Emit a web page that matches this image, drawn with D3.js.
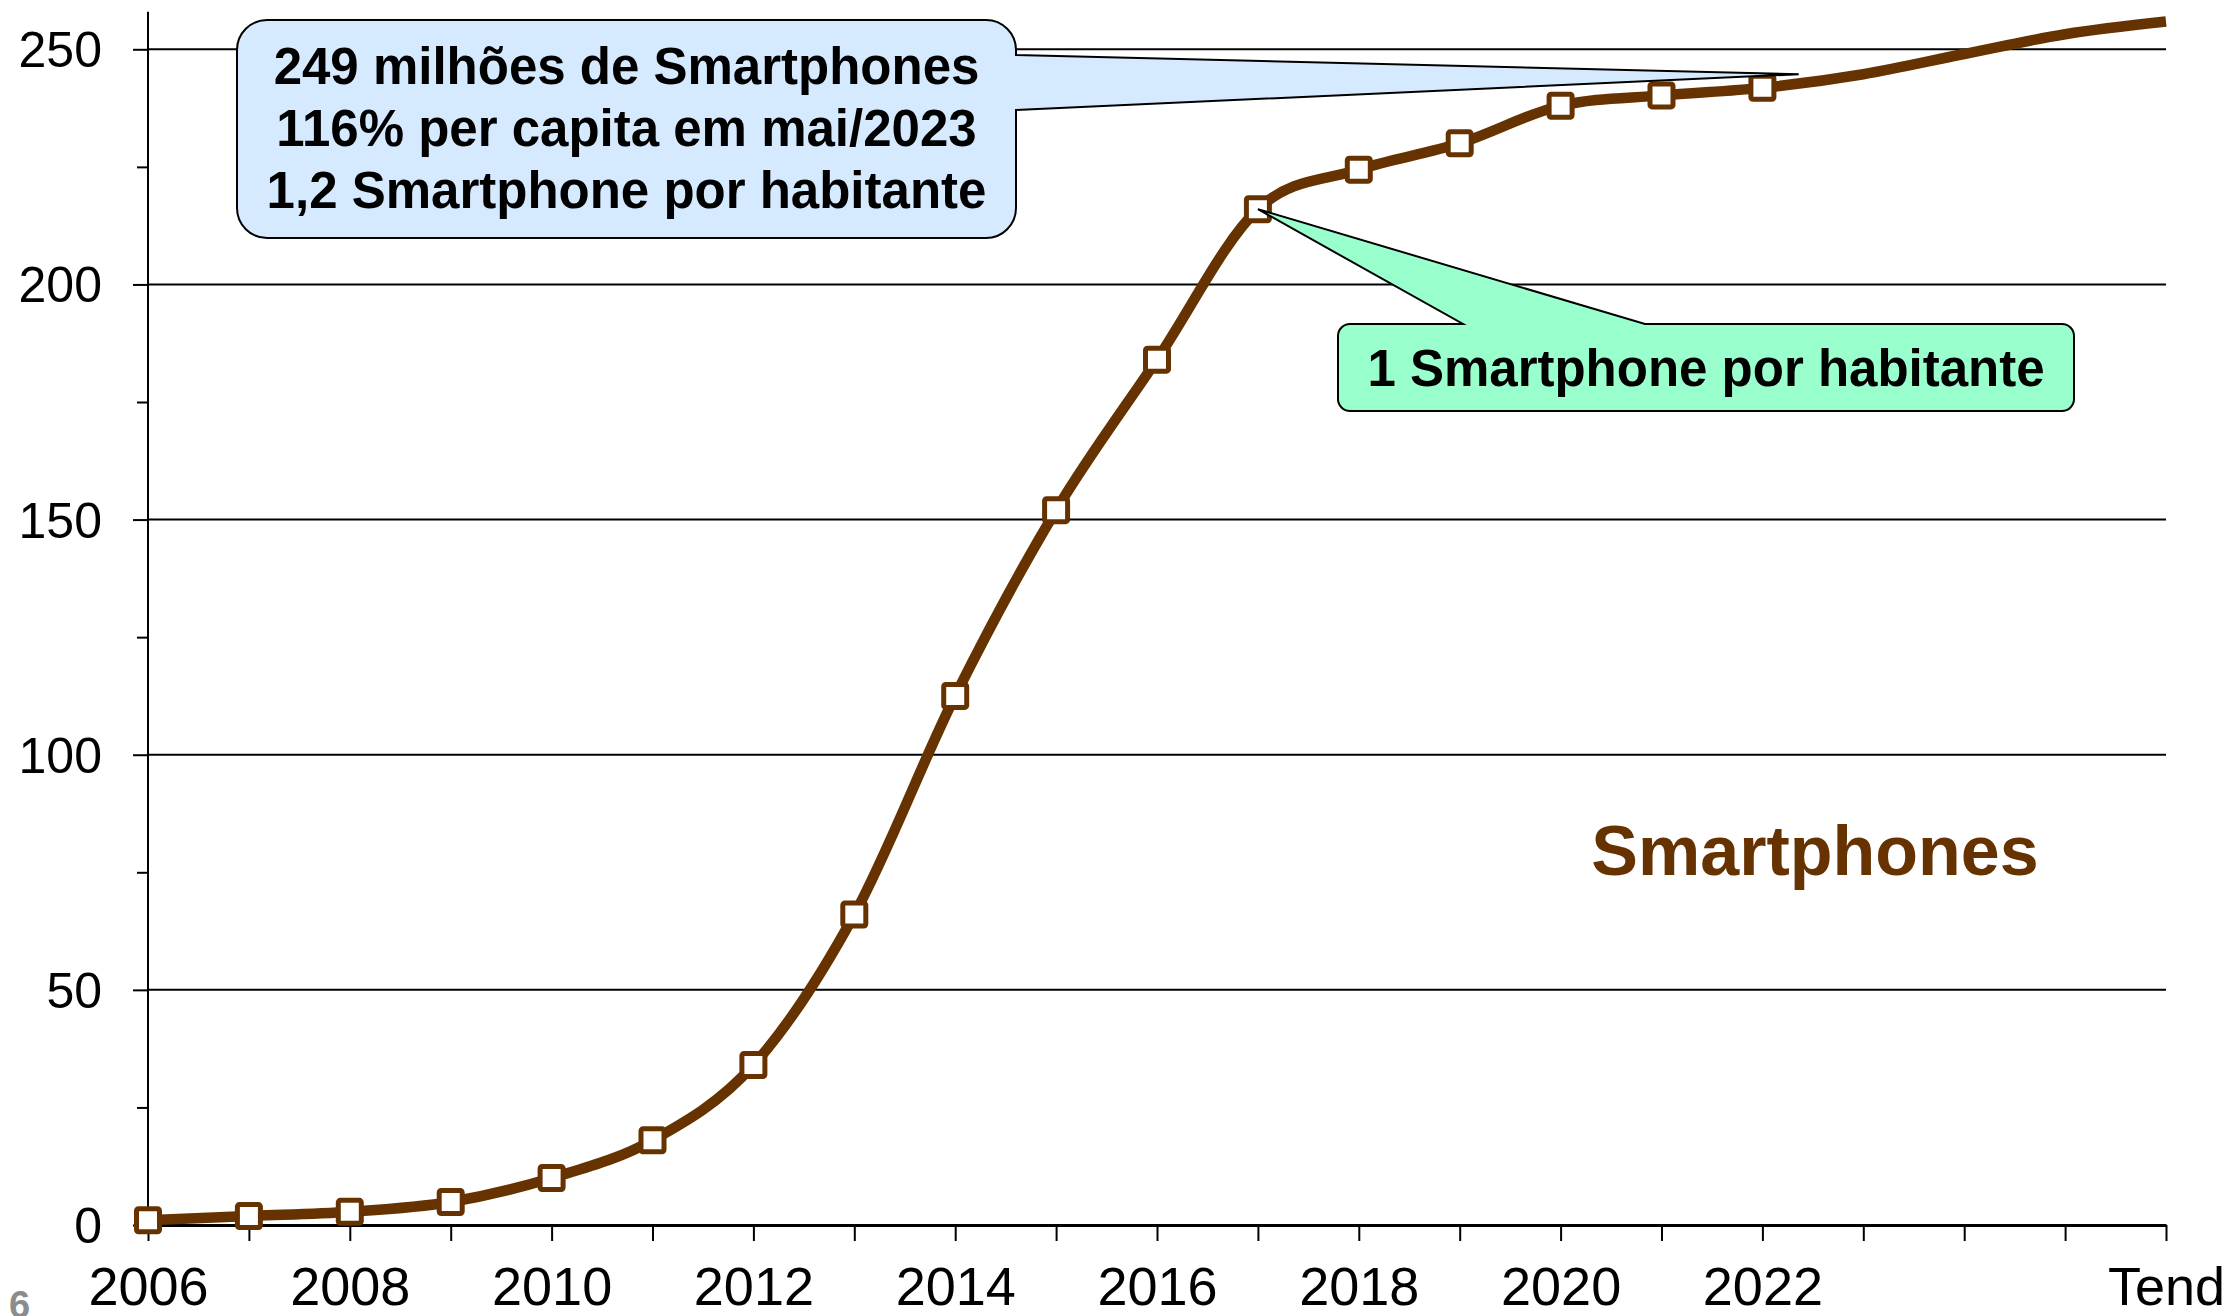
<!DOCTYPE html>
<html>
<head>
<meta charset="utf-8">
<script src="https://cdn.jsdelivr.net/npm/d3@7"></script>
<style>
  body { margin: 0; background: #fff; }
  svg { display: block; font-family: 'Liberation Sans', Arial, sans-serif; }
</style>
</head>
<body>
<div id="container"></div>
<script>
// values
const years = [2006, 2007, 2008, 2009, 2010, 2011, 2012, 2013, 2014, 2015, 2016, 2017, 2018, 2019, 2020, 2021, 2022];
const smartphones = [1, 1.9, 2.8, 4.9, 10, 18, 34, 66, 112.5, 152, 184, 216, 224.4, 230, 238, 240.2, 241.8];
const trendYears = [2023, 2024, 2025, 2026];
const trendValues = [244.7, 249, 253.2, 255.9];

const xTicks = d3.range(2006, 2027);
const xLabels = {2006: '2006', 2008: '2008', 2010: '2010', 2012: '2012', 2014: '2014', 2016: '2016', 2018: '2018', 2020: '2020', 2022: '2022', 2026: 'Tend'};
const yTicks = [0, 50, 100, 150, 200, 250];
const yMinorTicks = [25, 75, 125, 175, 225];

const calloutTop = ['249 milhões de Smartphones', '116% per capita em mai/2023', '1,2 Smartphone por habitante'];
const calloutTopPoint = {year: 2022.36, value: 244.7};
const calloutMid = '1 Smartphone por habitante';
const calloutMidPoint = {year: 2017, value: 216};
const seriesName = 'Smartphones';

const width = 2232;
const height = 1316;
const brown = '#663300';

const svg = d3.select('#container')
  .append('svg')
  .attr('width', width)
  .attr('height', height);

const xScale = d3.scaleLinear()
  .domain([2006, 2026])
  .range([148, 2166]);

const yScale = d3.scaleLinear()
  .domain([0, 250])
  .range([1225, 49.3]);

//gridlines
svg.append('g')
  .selectAll('line')
  .data(yTicks.filter(d => d > 0))
  .enter()
  .append('line')
  .attr('x1', xScale(2006))
  .attr('x2', xScale(2026))
  .attr('y1', d => yScale(d))
  .attr('y2', d => yScale(d))
  .style('stroke', '#000')
  .style('stroke-width', 2);

//y axis
const yAxis = svg.append('g')
  .attr('transform', `translate(${xScale(2006)}, 0)`)
  .call(d3.axisLeft(yScale)
    .tickValues(yTicks)
    .tickSize(15)
    .tickSizeOuter(0)
    .tickPadding(31)
  );

yAxis.select('.domain').remove();
yAxis.selectAll('line').style('stroke', '#000').style('stroke-width', 2);
yAxis.selectAll('text')
  .style('font-size', '50px')
  .style('fill', '#000')
  .attr('dy', '0.35em');

//minor ticks
svg.append('g')
  .attr('transform', `translate(${xScale(2006)}, 0)`)
  .call(d3.axisLeft(yScale)
    .tickValues(yMinorTicks)
    .tickSize(11)
    .tickFormat('')
  )
  .call(g => g.select('.domain').remove())
  .selectAll('line')
  .style('stroke', '#000')
  .style('stroke-width', 2);

svg.append('line')
  .attr('x1', xScale(2006))
  .attr('x2', xScale(2006))
  .attr('y1', yScale(0))
  .attr('y2', yScale(258))
  .style('stroke', '#000')
  .style('stroke-width', 2);

//x axis
const xAxis = svg.append('g')
  .attr('transform', `translate(0, ${yScale(0)})`)
  .call(d3.axisBottom(xScale)
    .tickValues(xTicks)
    .tickSize(16)
    .tickSizeOuter(0)
    .tickPadding(26)
    .tickFormat(d => xLabels[d] || '')
  );

xAxis.select('.domain').style('stroke', '#000').style('stroke-width', 3);
xAxis.selectAll('line').style('stroke', '#000').style('stroke-width', 2);
xAxis.selectAll('text')
  .style('font-size', '54px')
  .style('fill', '#000');

//line with trend
const allPoints = years.map((d, i) => ({year: d, value: smartphones[i]}))
  .concat(trendYears.map((d, i) => ({year: d, value: trendValues[i]})));

const line = d3.line()
  .x(d => xScale(d.year))
  .y(d => yScale(d.value))
  .curve(d3.curveCardinal.tension(0));

svg.append('path')
  .datum(allPoints)
  .attr('d', line)
  .style('fill', 'none')
  .style('stroke', brown)
  .style('stroke-width', 10.5)
  .style('stroke-linejoin', 'round');

//markers
const markerSize = 23;
svg.append('g')
  .selectAll('rect')
  .data(years)
  .enter()
  .append('rect')
  .attr('x', d => xScale(d) - markerSize / 2)
  .attr('y', (d, i) => yScale(smartphones[i]) - markerSize / 2)
  .attr('width', markerSize)
  .attr('height', markerSize)
  .attr('rx', 2)
  .style('fill', '#fff')
  .style('stroke', brown)
  .style('stroke-width', 5);

//series label
svg.append('text')
  .attr('x', 1815)
  .attr('y', 875)
  .attr('text-anchor', 'middle')
  .style('font-size', '70px')
  .style('font-weight', 'bold')
  .style('fill', brown)
  .text(seriesName);

//top callout, pointer on the right side
const drawTopCallout = () => {
  const x0 = 237, y0 = 20, x1 = 1016, y1 = 238, r = 30;
  const tipX = xScale(calloutTopPoint.year);
  const tipY = yScale(calloutTopPoint.value);
  const path = `M${x0 + r},${y0} H${x1 - r} A${r},${r} 0 0 1 ${x1},${y0 + r} V55 L${tipX},${tipY} L${x1},110 ` +
    `V${y1 - r} A${r},${r} 0 0 1 ${x1 - r},${y1} H${x0 + r} A${r},${r} 0 0 1 ${x0},${y1 - r} V${y0 + r} A${r},${r} 0 0 1 ${x0 + r},${y0} Z`;

  svg.append('path')
    .attr('d', path)
    .style('fill', '#d6eaff')
    .style('stroke', '#000')
    .style('stroke-width', 2);

  svg.append('g')
    .selectAll('text')
    .data(calloutTop)
    .enter()
    .append('text')
    .attr('x', (x0 + x1) / 2)
    .attr('y', (d, i) => 84 + i * 62)
    .attr('text-anchor', 'middle')
    .style('font-size', '51px')
    .style('font-weight', 'bold')
    .text(d => d);
}

//middle callout, pointer on the top side
const drawMidCallout = () => {
  const x0 = 1338, y0 = 324, x1 = 2074, y1 = 411, r = 12;
  const tipX = xScale(calloutMidPoint.year);
  const tipY = yScale(calloutMidPoint.value);
  const path = `M${x0 + r},${y0} H1463 L${tipX},${tipY} L1645,${y0} H${x1 - r} A${r},${r} 0 0 1 ${x1},${y0 + r} ` +
    `V${y1 - r} A${r},${r} 0 0 1 ${x1 - r},${y1} H${x0 + r} A${r},${r} 0 0 1 ${x0},${y1 - r} V${y0 + r} A${r},${r} 0 0 1 ${x0 + r},${y0} Z`;

  svg.append('path')
    .attr('d', path)
    .style('fill', '#99ffcc')
    .style('stroke', '#000')
    .style('stroke-width', 2);

  svg.append('text')
    .attr('x', (x0 + x1) / 2)
    .attr('y', 386)
    .attr('text-anchor', 'middle')
    .style('font-size', '51px')
    .style('font-weight', 'bold')
    .text(calloutMid);
}

drawTopCallout();
drawMidCallout();

//slide number
svg.append('text')
  .attr('x', 9)
  .attr('y', 1318)
  .style('font-size', '38px')
  .style('font-weight', 'bold')
  .style('fill', '#8c8c8c')
  .text('6');
</script>
</body>
</html>
